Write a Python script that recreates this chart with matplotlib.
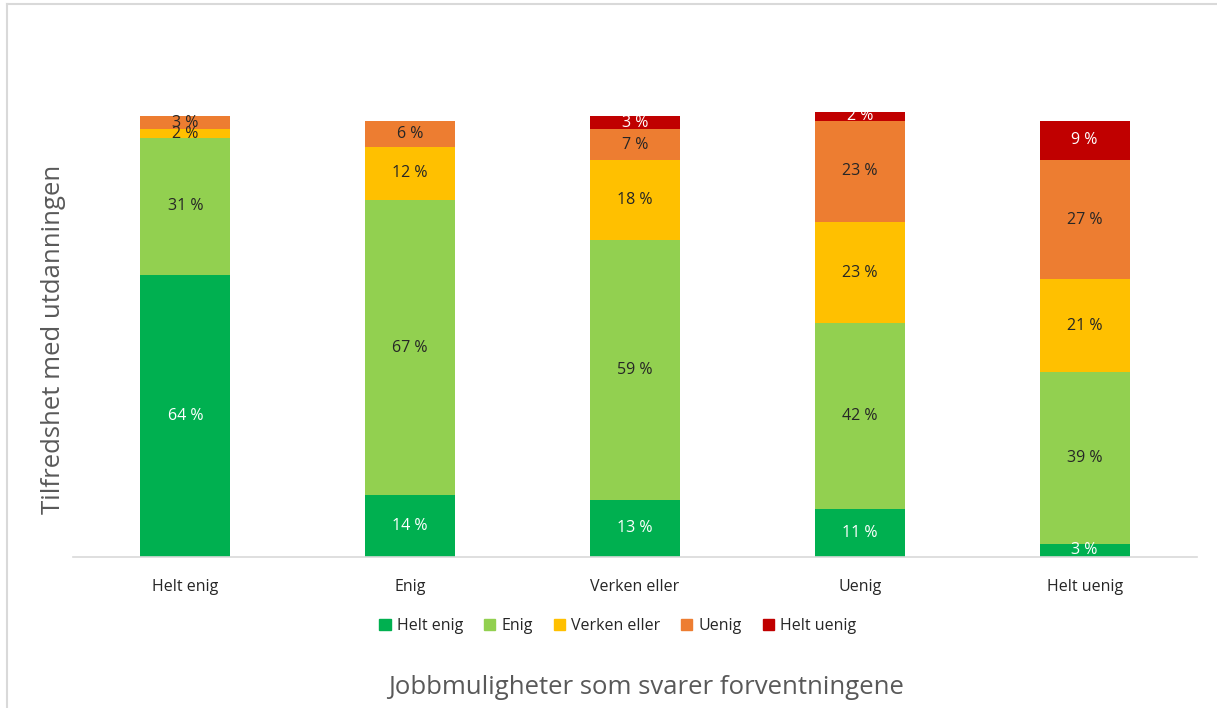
import numpy as np
import matplotlib
matplotlib.use('Agg')
import matplotlib.pyplot as plt
from matplotlib.lines import Line2D

plt.rcParams['font.family'] = ['Open Sans', 'DejaVu Sans']

categories = ['Helt enig', 'Enig', 'Verken eller', 'Uenig', 'Helt uenig']
series = ['Helt enig', 'Enig', 'Verken eller', 'Uenig', 'Helt uenig']

# rows = series (stack order bottom -> top), columns = categories
helt_enig    = [64, 14, 13, 11, 3]
enig         = [31, 67, 59, 42, 39]
verken_eller = [2, 12, 18, 23, 21]
uenig        = [3, 6, 7, 23, 27]
helt_uenig   = [0, 0, 3, 2, 9]

values = [helt_enig, enig, verken_eller, uenig, helt_uenig]
colors = ['#00B050', '#92D050', '#FFC000', '#ED7D31', '#C00000']
label_colors = ['white', '#262626', '#262626', '#262626', 'white']

fig = plt.figure(figsize=(12.17, 7.08), dpi=100, facecolor='white')
ax = fig.add_axes([73/1217, 1-557/708, 1124/1217, 485/708])

x = np.arange(len(categories))
bottom = np.zeros(len(categories))
for vals, col, lcol, name in zip(values, colors, label_colors, series):
    vals = np.array(vals, dtype=float)
    ax.bar(x, vals, width=0.4, bottom=bottom, color=col, label=name, zorder=2)
    for xi, v, b in zip(x, vals, bottom):
        if v > 0:
            ax.text(xi, b + v/2, '%d %%' % v, ha='center', va='center',
                    fontsize=11.5, color=lcol, zorder=3)
    bottom += vals

ax.set_xlim(-0.5, len(categories) - 0.5)
ax.set_ylim(0, 110)
ax.set_xticks(x)
ax.set_xticklabels(categories, fontsize=11.5, color='#262626')
ax.tick_params(axis='x', length=0, pad=16)
ax.set_yticks([])
for s in ['top', 'right', 'left']:
    ax.spines[s].set_visible(False)
ax.spines['bottom'].set_color('#D9D9D9')
ax.spines['bottom'].set_linewidth(1.2)

ax.set_ylabel('Tilfredshet med utdanningen', fontsize=18.5, color='#595959')
ax.yaxis.set_label_coords(-0.006, 0.449)

fig.text(646/1217, 1-688/708, 'Jobbmuligheter som svarer forventningene',
         ha='center', va='center', fontsize=18.5, color='#595959')

handles = [plt.Rectangle((0, 0), 1, 1, color=c) for c in colors]
fig.legend(handles, series, loc='center', bbox_to_anchor=(618/1217, 1-626/708),
           ncol=5, frameon=False, fontsize=11.5, handlelength=0.7,
           handleheight=0.7, handletextpad=0.4, columnspacing=1.3,
           labelcolor='#262626')

# chart frame (only left and top visible)
fig.add_artist(Line2D([7/1217, 7/1217], [0, 1-4/708], transform=fig.transFigure,
                      color='#D9D9D9', lw=1.5))
fig.add_artist(Line2D([7/1217, 1], [1-4/708, 1-4/708], transform=fig.transFigure,
                      color='#D9D9D9', lw=1.5))

plt.savefig('out.png', dpi=100, facecolor='white')
